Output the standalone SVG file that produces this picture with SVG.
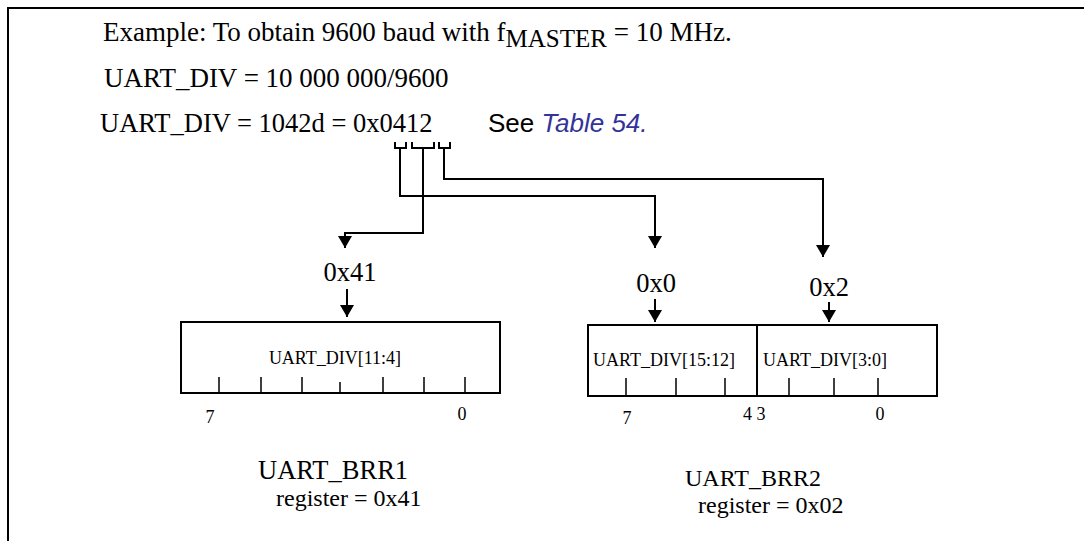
<svg xmlns="http://www.w3.org/2000/svg" width="1084" height="541" viewBox="0 0 1084 541">
<defs>
<style>
.t{font-family:"Liberation Serif","Times New Roman",serif;fill:#000}
.big{font-size:26.5px}
.mid{font-size:24px}
.sm{font-size:18px}
.a{font-family:"Liberation Sans",Arial,sans-serif;font-size:26px}
.ln{fill:none;stroke:#000;stroke-width:2}
.bx{fill:#fff;stroke:#000;stroke-width:2}
.tk{stroke:#000;stroke-width:1.5}
</style>
<marker id="ah" markerUnits="userSpaceOnUse" markerWidth="12" markerHeight="14" refX="12" refY="7" orient="auto" viewBox="0 0 12 14">
<path d="M0,0 L12,7 L0,14 Z" fill="#000"/>
</marker>
</defs>
<rect width="1084" height="541" fill="#fff"/>
<path d="M8,541 V8 H1084" class="ln"/>

<g id="equations">
<text class="t" font-size="27" x="103" y="41">Example: To obtain 9600 baud with f<tspan font-size="25" dy="6">MASTER</tspan><tspan dy="-6"> = 10 MHz.</tspan></text>
<text class="t" font-size="27" x="104" y="87">UART_DIV = 10 000 000/9600</text>
<text class="t big" x="100" y="132">UART_DIV = 1042d = 0x0412</text>
<text class="a" x="488" y="132">See <tspan fill="#333399" font-style="italic">Table 54.</tspan></text>
<path class="ln" d="M395,142 V148 H406 V142 M412,142 V148 H434 V142 M439,142 V148 H450 V142" stroke-width="1.5"/>
</g>

<g id="connectors">
<path class="ln" d="M400,148 V196 H655 V248" marker-end="url(#ah)"/>
<path class="ln" d="M423,148 V233 H345 V248" marker-end="url(#ah)"/>
<path class="ln" d="M444,148 V179 H823 V257" marker-end="url(#ah)"/>
<path class="ln" d="M347,289 V317" marker-end="url(#ah)"/>
<path class="ln" d="M655,299 V322" marker-end="url(#ah)"/>
<path class="ln" d="M829,302 V322" marker-end="url(#ah)"/>
</g>

<g id="val-0x41"><text class="t big" x="350" y="281" text-anchor="middle">0x41</text></g>
<g id="val-0x0"><text class="t big" x="656" y="292" text-anchor="middle">0x0</text></g>
<g id="val-0x2"><text class="t big" x="829" y="296" text-anchor="middle">0x2</text></g>

<g id="brr1">
<rect class="bx" x="181" y="322" width="319" height="71"/>
<text class="t sm" x="335" y="364" text-anchor="middle">UART_DIV[11:4]</text>
<path class="tk" d="M219,377 V393 M261,377 V393 M302,377 V393 M340,382 V393 M383,377 V393 M424,377 V393 M465,377 V393"/>
<text class="t sm" x="210" y="423" text-anchor="middle">7</text>
<text class="t sm" x="462" y="420" text-anchor="middle">0</text>
<text class="t big" x="258" y="479">UART_BRR1</text>
<text class="t mid" x="276" y="506">register = 0x41</text>
</g>

<g id="brr2">
<rect class="bx" x="588" y="325" width="349" height="71"/>
<path class="ln" d="M757,325 V396"/>
<text class="t sm" x="593" y="366">UART_DIV[15:12]</text>
<text class="t sm" x="763" y="366">UART_DIV[3:0]</text>
<path class="tk" d="M626,378 V396 M676,378 V396 M725,378 V396 M789,378 V396 M834,378 V396 M878,378 V396"/>
<text class="t sm" x="627" y="424" text-anchor="middle">7</text>
<text class="t sm" x="743" y="420">4 3</text>
<text class="t sm" x="880" y="420" text-anchor="middle">0</text>
<text class="t mid" x="685" y="486">UART_BRR2</text>
<text class="t mid" x="698" y="513">register = 0x02</text>
</g>
</svg>
